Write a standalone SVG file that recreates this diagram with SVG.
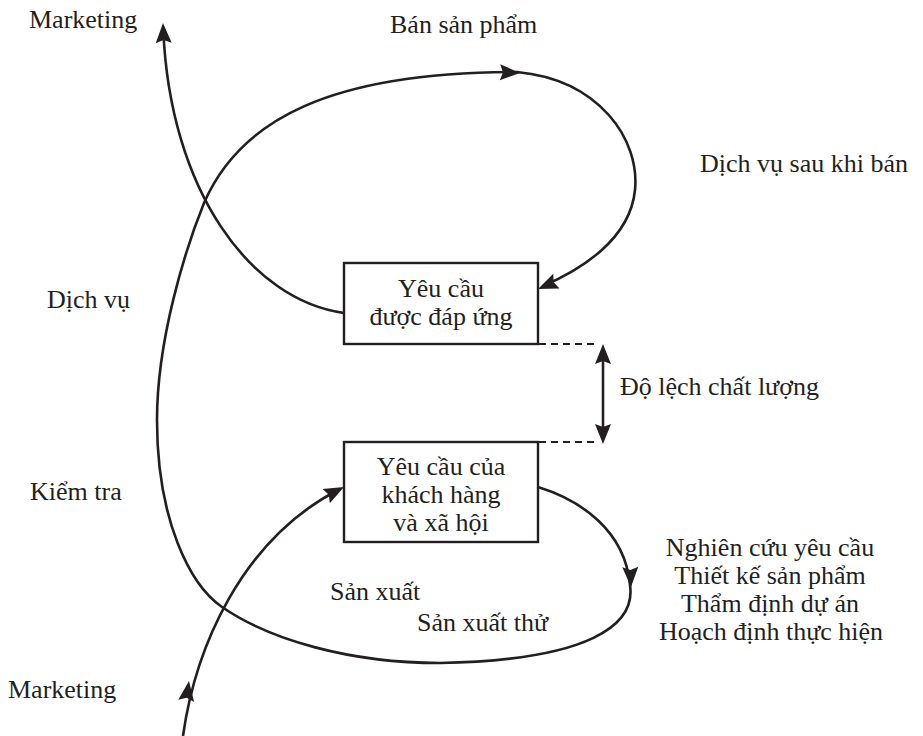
<svg xmlns="http://www.w3.org/2000/svg" xmlns:xlink="http://www.w3.org/1999/xlink" width="923" height="736" viewBox="0 0 923 736">
<style>
text{font-family:"Liberation Serif","Times New Roman",serif;font-size:26px;fill:#231f20}
.c{text-anchor:middle}
.ln{fill:none;stroke:#231f20;stroke-width:2.6}
.bx{fill:#fff;stroke:#231f20;stroke-width:2.4}
.dash{fill:none;stroke:#231f20;stroke-width:2.2;stroke-dasharray:7 5}
.ah{fill:#231f20}
</style>
<defs>
<path id="ah" d="M0,0 L-20,-8 L-17,0 L-20,8 Z"/>
</defs>
<rect width="923" height="736" fill="#fff"/>
<g id="connectors">
<path class="ln" d="M344,313 C250,300 170,190 163.3,30"/>
<path class="ln" d="M183,736 C195,650 240,540 340,489"/>
<path class="ln" d="M538,487 C580,500 625,530 630,585 C636,625 590,660 440,663 C350,663 270,640 222,607 C190,585 157,520 157,420 C157,340 185,250 204,203 C240,120 330,72 517,72 C600,80 640,140 635,190 C630,240 580,270 543,286"/>
<line class="dash" x1="539" y1="344" x2="597" y2="344"/>
<line class="dash" x1="539" y1="442" x2="597" y2="442"/>
<line class="ln" x1="603" y1="352" x2="603" y2="436"/>
<use href="#ah" class="ah" transform="translate(163,23) rotate(-92)"/>
<use href="#ah" class="ah" transform="translate(189,681) rotate(-82)"/>
<use href="#ah" class="ah" transform="translate(344,487) rotate(-27)"/>
<use href="#ah" class="ah" transform="translate(520,73) rotate(2)"/>
<use href="#ah" class="ah" transform="translate(538,289) rotate(157)"/>
<use href="#ah" class="ah" transform="translate(631,587) rotate(88)"/>
<use href="#ah" class="ah" transform="translate(603,344) rotate(-90)"/>
<use href="#ah" class="ah" transform="translate(603,444) rotate(90)"/>
</g>
<g id="node-dap-ung">
<rect class="bx" x="344" y="263" width="194" height="81"/>
<text class="c" x="441" y="297">Yêu cầu</text>
<text class="c" x="441" y="325">được đáp ứng</text>
</g>
<g id="node-yeu-cau">
<rect class="bx" x="344" y="442" width="194" height="100"/>
<text class="c" x="441" y="475">Yêu cầu của</text>
<text class="c" x="441" y="503">khách hàng</text>
<text class="c" x="441" y="531">và xã hội</text>
</g>
<g id="labels">
<text x="29" y="28">Marketing</text>
<text x="390" y="33">Bán sản phẩm</text>
<text x="700" y="172">Dịch vụ sau khi bán</text>
<text x="47" y="308">Dịch vụ</text>
<text x="620" y="395">Độ lệch chất lượng</text>
<text x="30" y="500">Kiểm tra</text>
<text x="330" y="600">Sản xuất</text>
<text x="417" y="631">Sản xuất thử</text>
<text x="8" y="698">Marketing</text>
<text class="c" x="770" y="556">Nghiên cứu yêu cầu</text>
<text class="c" x="770" y="584">Thiết kế sản phẩm</text>
<text class="c" x="770" y="612">Thẩm định dự án</text>
<text class="c" x="771" y="640">Hoạch định thực hiện</text>
</g>
</svg>
